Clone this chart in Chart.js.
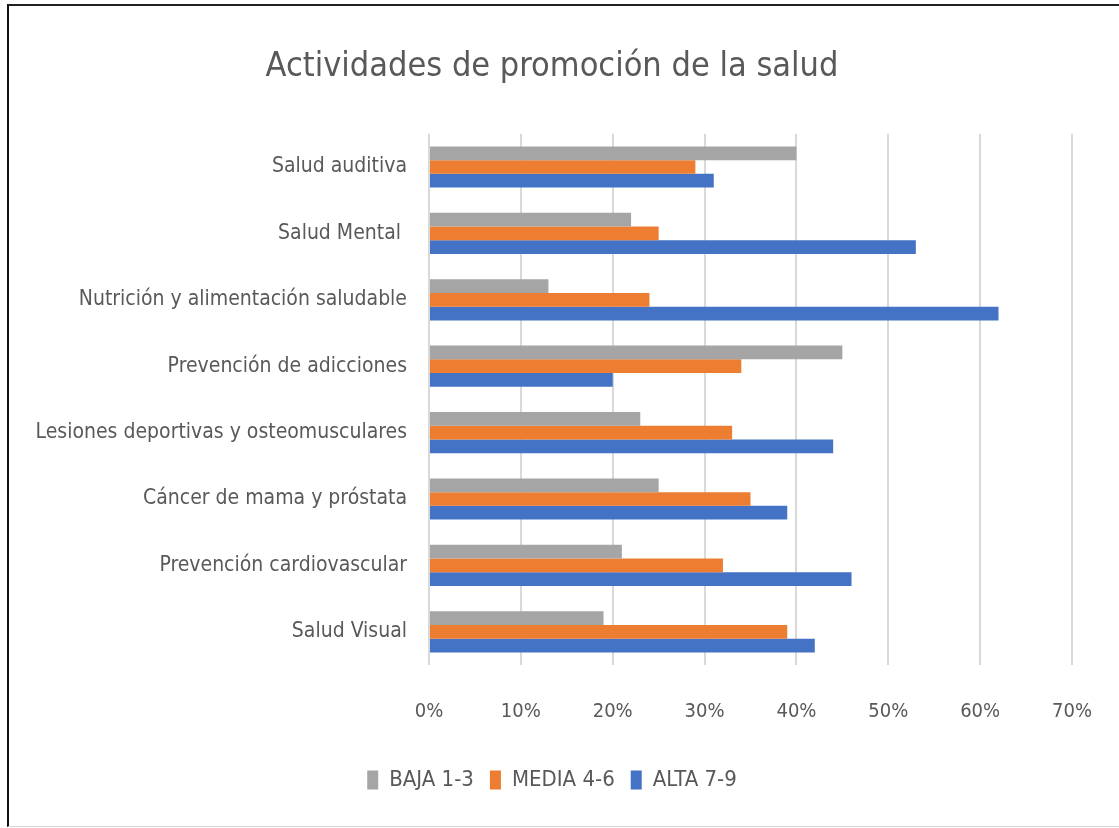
<!DOCTYPE html>
<html>
<head>
<meta charset="utf-8">
<script src="https://cdn.jsdelivr.net/npm/chart.js@4.4.1/dist/chart.umd.min.js"></script>
<style>
  html, body { margin: 0; padding: 0; background: #fff; }
  #wrap { position: relative; width: 1119px; height: 828px; overflow: hidden; }
  #frame { position: absolute; left: 7px; top: 4px; right: -4px; bottom: 1px;
           border-left: 2px solid #111; border-top: 2px solid #222; border-bottom: 1px solid #d4d4d4; pointer-events: none; }
  canvas { position: absolute; left: 0; top: 0; }
</style>
</head>
<body>
<div id="wrap">
  <canvas id="c" width="1119" height="828"></canvas>
  <div id="frame"></div>
</div>
<script>
const title = "Actividades de promoción de la salud";
const categories = [
  "Salud auditiva",
  "Salud Mental ",
  "Nutrición y alimentación saludable",
  "Prevención de adicciones",
  "Lesiones deportivas y osteomusculares",
  "Cáncer de mama y próstata",
  "Prevención cardiovascular",
  "Salud Visual"
];
const seriesNames = ["BAJA 1-3", "MEDIA 4-6", "ALTA 7-9"];
const baja  = [0.40, 0.22, 0.13, 0.45, 0.23, 0.25, 0.21, 0.19];
const media = [0.29, 0.25, 0.24, 0.34, 0.33, 0.35, 0.32, 0.39];
const alta  = [0.31, 0.53, 0.62, 0.20, 0.44, 0.39, 0.46, 0.42];
const colors = ["#a5a5a5", "#ed7d31", "#4472c4"];
const xMin = 0, xMax = 0.7, xStep = 0.1;

const FONT = "'Liberation Sans Narrow', 'DejaVu Sans Condensed', 'Arial Narrow', sans-serif";
const TXT = "#595959";
const PAD_L = 32, PAD_R = 47;

new Chart(document.getElementById("c"), {
  type: "bar",
  data: {
    labels: categories,
    datasets: [baja, media, alta].map((d, i) => ({
      label: seriesNames[i],
      data: d,
      backgroundColor: colors[i],
      borderWidth: 0,
      categoryPercentage: 0.62,
      barPercentage: 1.0
    }))
  },
  options: {
    indexAxis: "y",
    responsive: false,
    animation: false,
    layout: { padding: { left: PAD_L, right: PAD_R, top: 0, bottom: 27 } },
    plugins: {
      title: {
        display: true,
        text: title,
        color: TXT,
        font: { family: FONT, size: 34, weight: "normal" },
        padding: { top: 47, bottom: 46 }
      },
      legend: {
        display: true,
        position: "bottom",
        labels: {
          color: TXT,
          font: { family: FONT, size: 22 },
          boxWidth: 11,
          boxHeight: 19,
          padding: 16
        }
      },
      tooltip: { enabled: false }
    },
    scales: {
      x: {
        min: xMin, max: xMax,
        ticks: {
          stepSize: xStep,
          color: TXT,
          font: { family: FONT, size: 20 },
          padding: 2,
          callback: v => Math.round(v * 100) + "%"
        },
        grid: { color: "#d9d9d9", lineWidth: 2, drawTicks: true, tickLength: 33, tickColor: "rgba(0,0,0,0)" },
        border: { display: false },
        afterFit: s => { s.height = 88; }
      },
      y: {
        ticks: {
          color: TXT,
          font: { family: FONT, size: 21 },
          padding: 22
        },
        grid: { display: false, drawTicks: false },
        border: { display: false },
        afterFit: s => { s.width = 429 - PAD_L; }
      }
    }
  }
});
</script>
</body>
</html>
